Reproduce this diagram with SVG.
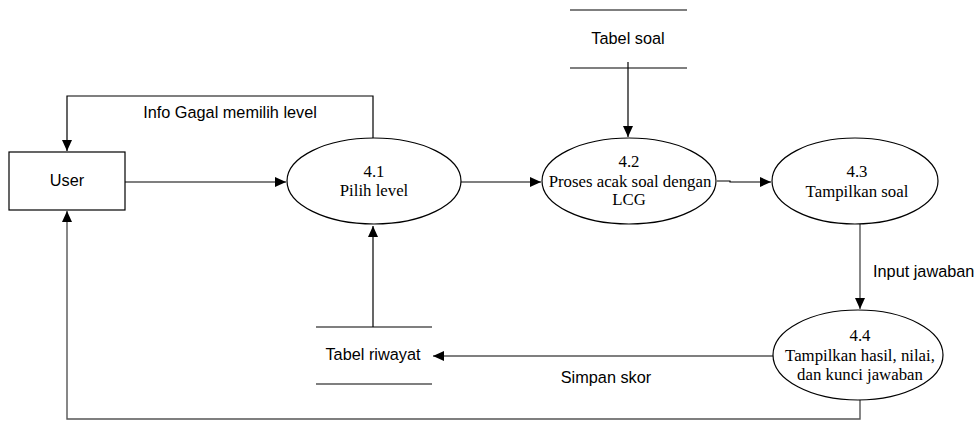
<svg xmlns="http://www.w3.org/2000/svg" width="978" height="421" viewBox="0 0 978 421">
<defs>
<marker id="arr" markerWidth="12" markerHeight="10" refX="11" refY="5" orient="auto" markerUnits="userSpaceOnUse">
<path d="M0,0 L11,5 L0,10 Z" fill="#000"/>
</marker>
</defs>
<style>
.shape{fill:#fff;stroke:#000;stroke-width:1.2}
.line{fill:none;stroke:#000;stroke-width:1.2}
.gline{fill:none;stroke:#555;stroke-width:1.4}
</style>
<rect width="978" height="421" fill="#fff"/>
<g id="connectors">
<path class="line" d="M373,138 V96 H67 V151" marker-end="url(#arr)"/>
<path class="line" d="M125,182 H286" marker-end="url(#arr)"/>
<path class="line" d="M461,182 H541" marker-end="url(#arr)"/>
<path class="line" d="M628,62 V137" marker-end="url(#arr)"/>
<path class="line" d="M717,181 H730 V182 H771" marker-end="url(#arr)"/>
<path class="gline" d="M860,224 V309" marker-end="url(#arr)"/>
<path class="line" d="M773,356 H433" marker-end="url(#arr)"/>
<path class="line" d="M373,327 V226" marker-end="url(#arr)"/>
<path class="gline" d="M860,400 V419 H67 V211" marker-end="url(#arr)"/>
</g>
<g id="labels" font-family="Liberation Sans" font-size="16.3" fill="#000">
<text x="230" y="118" text-anchor="middle">Info Gagal memilih level</text>
<text x="873" y="277">Input jawaban</text>
<text x="606" y="383" text-anchor="middle">Simpan skor</text>
</g>
<g id="user" font-family="Liberation Sans" font-size="16.3" fill="#000">
<rect class="shape" x="9" y="152" width="116" height="58"/>
<text x="67" y="186" text-anchor="middle">User</text>
</g>
<g id="p41" font-family="Liberation Serif" font-size="16.8" fill="#000" text-anchor="middle">
<ellipse class="shape" cx="374" cy="181" rx="87" ry="43"/>
<text x="374" y="177">4.1</text>
<text x="374" y="196">Pilih level</text>
</g>
<g id="p42" font-family="Liberation Serif" font-size="16.8" fill="#000" text-anchor="middle">
<ellipse class="shape" cx="629" cy="181" rx="87" ry="43"/>
<text x="629" y="167">4.2</text>
<text x="630" y="187">Proses acak soal dengan</text>
<text x="629" y="205">LCG</text>
</g>
<g id="p43" font-family="Liberation Serif" font-size="16.8" fill="#000" text-anchor="middle">
<ellipse class="shape" cx="855" cy="181" rx="83" ry="43"/>
<text x="857" y="177">4.3</text>
<text x="857" y="197">Tampilkan soal</text>
</g>
<g id="p44" font-family="Liberation Serif" font-size="16.8" fill="#000" text-anchor="middle">
<ellipse class="shape" cx="858" cy="355" rx="85" ry="45"/>
<text x="860" y="341">4.4</text>
<text x="860" y="361">Tampilkan hasil, nilai,</text>
<text x="860" y="380">dan kunci jawaban</text>
</g>
<g id="tabel-soal" font-family="Liberation Sans" font-size="16.3" fill="#000">
<line class="line" x1="570" y1="10" x2="687" y2="10"/>
<line class="line" x1="570" y1="68" x2="687" y2="68"/>
<text x="628" y="44" text-anchor="middle">Tabel soal</text>
</g>
<g id="tabel-riwayat" font-family="Liberation Sans" font-size="16.3" fill="#000">
<line class="line" x1="316" y1="327" x2="432" y2="327"/>
<line class="line" x1="316" y1="384" x2="432" y2="384"/>
<text x="373" y="360" text-anchor="middle">Tabel riwayat</text>
</g>
</svg>
